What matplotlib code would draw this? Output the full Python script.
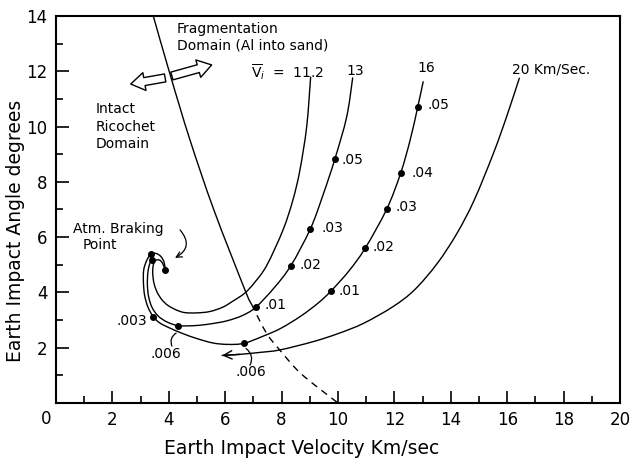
import matplotlib
matplotlib.use("Agg")
import matplotlib.pyplot as plt
from matplotlib.patches import FancyArrowPatch, PathPatch
from matplotlib.path import Path

plt.rcParams['font.family'] = ['DejaVu Sans']

# ---- data ----
curve_112_x = [9.03, 8.89, 8.65, 8.40, 8.05, 7.48, 7.06, 6.70, 6.28, 5.92, 5.46, 5.00, 4.57,
               4.28, 3.97, 3.76, 3.60, 3.49, 3.44, 3.43, 3.46, 3.55, 3.69, 3.79, 3.87]
curve_112_y = [11.79, 10.00, 8.43, 7.34, 6.26, 4.99, 4.38, 3.98, 3.69, 3.47, 3.31, 3.26, 3.27,
               3.36, 3.53, 3.73, 3.98, 4.27, 4.56, 4.81, 5.03, 5.17, 5.16, 5.03, 4.81]

curve_13_x = [10.52, 10.31, 9.89, 9.47, 9.02, 8.33, 7.73, 7.08, 6.60, 6.05, 5.46, 4.93, 4.34,
              3.94, 3.62, 3.40, 3.28, 3.24, 3.26, 3.32, 3.39]
curve_13_y = [11.76, 10.36, 8.83, 7.53, 6.30, 4.97, 4.16, 3.46, 3.16, 2.97, 2.86, 2.80, 2.80,
              2.93, 3.15, 3.47, 3.87, 4.31, 4.74, 5.03, 5.17]

curve_16_x = [13.02, 12.83, 12.56, 12.22, 11.73, 10.97, 10.39, 9.75, 9.30, 8.69, 7.97, 7.35, 6.67,
              6.10, 5.57, 5.00, 4.50, 4.04, 3.69, 3.45, 3.26, 3.14, 3.10, 3.11, 3.21, 3.36,
              3.55, 3.72, 3.83, 3.88]
curve_16_y = [11.62, 10.72, 9.52, 8.31, 7.02, 5.61, 4.78, 4.05, 3.62, 3.15, 2.70, 2.42, 2.16,
              2.12, 2.17, 2.33, 2.51, 2.71, 2.89, 3.12, 3.47, 3.91, 4.38, 4.81, 5.14, 5.38,
              5.41, 5.30, 5.10, 4.81]

curve_20_x = [16.43, 15.98, 15.51, 14.83, 14.22, 13.52, 12.71, 11.94, 10.90, 10.00, 9.12, 7.94,
              7.23, 6.52, 5.89]
curve_20_y = [11.75, 10.36, 9.03, 7.34, 6.14, 5.05, 4.09, 3.48, 2.88, 2.51, 2.22, 1.92,
              1.83, 1.76, 1.72]

# fragmentation boundary: solid part then dashed extension
frag_solid_x = [3.45, 4.05, 4.75, 5.60, 6.70, 6.93]
frag_solid_y = [14.0, 11.87, 9.52, 6.98, 4.09, 3.58]
frag_dash_x = [6.93, 7.45, 7.95, 8.70, 10.0]
frag_dash_y = [3.58, 2.55, 1.90, 1.05, 0.0]

# marked points (dots) and their labels
dots_13_x = [9.89, 9.02, 8.33, 7.08, 4.34]
dots_13_y = [8.83, 6.30, 4.97, 3.46, 2.80]
dots_16_x = [12.83, 12.22, 11.73, 10.97, 9.75, 6.67, 3.45]
dots_16_y = [10.72, 8.31, 7.02, 5.61, 4.05, 2.16, 3.12]
end_dots_x = [3.87, 3.39, 3.36]
end_dots_y = [4.81, 5.17, 5.38]

labels_13 = ['.05', '.03', '.02', '.01']
labels_13_x = [10.12, 9.40, 8.64, 7.40]
labels_13_y = [8.79, 6.33, 4.99, 3.55]
labels_16 = ['.05', '.04', '.03', '.02', '.01']
labels_16_x = [13.18, 12.60, 12.04, 11.23, 10.02]
labels_16_y = [10.78, 8.32, 7.09, 5.64, 4.05]

curve_names = [r'$\overline{\mathrm{V}}_{i}$  =  11.2', '13', '16', '20 Km/Sec.']

xticks = list(range(0, 21, 2))
yticks = list(range(2, 15, 2))


def smooth_path(xs, ys):
    """Smooth drawing path (cubic Bezier segments) through the given points."""
    pts = list(zip(xs, ys))
    n = len(pts)
    verts = [pts[0]]
    codes = [Path.MOVETO]
    for i in range(n - 1):
        p0 = pts[i - 1] if i > 0 else pts[i]
        p1 = pts[i]
        p2 = pts[i + 1]
        p3 = pts[i + 2] if i + 2 < n else pts[i + 1]
        c1 = (p1[0] + (p2[0] - p0[0]) / 6.0, p1[1] + (p2[1] - p0[1]) / 6.0)
        c2 = (p2[0] - (p3[0] - p1[0]) / 6.0, p2[1] - (p3[1] - p1[1]) / 6.0)
        verts += [c1, c2, p2]
        codes += [Path.CURVE4] * 3
    return Path(verts, codes)


# ---- figure ----
fig = plt.figure(figsize=(6.33, 4.61), dpi=100)
ax = fig.add_axes([56 / 633, 58 / 461, 564 / 633, 387 / 461])
ax.set_xlim(0, 20)
ax.set_ylim(0, 14)

lw = 1.0
for cx, cy in [(curve_112_x, curve_112_y), (curve_13_x, curve_13_y),
               (curve_16_x, curve_16_y), (curve_20_x, curve_20_y),
               (frag_solid_x, frag_solid_y)]:
    ax.add_patch(PathPatch(smooth_path(cx, cy), facecolor='none', edgecolor='black',
                           lw=lw, capstyle='round', joinstyle='round'))

# arrow head at the end of the 20 km/s curve
ax.annotate('', xy=(curve_20_x[-1], curve_20_y[-1]), xytext=(curve_20_x[-2], curve_20_y[-2]),
            arrowprops=dict(arrowstyle='->', color='black', lw=lw, mutation_scale=15,
                            shrinkA=0, shrinkB=0))

ax.add_patch(PathPatch(smooth_path(frag_dash_x, frag_dash_y), facecolor='none',
                       edgecolor='black', lw=lw, linestyle=(0, (5, 4))))

ax.plot(dots_13_x, dots_13_y, 'o', color='black', ms=4)
ax.plot(dots_16_x, dots_16_y, 'o', color='black', ms=4)
ax.plot(end_dots_x, end_dots_y, 'o', color='black', ms=4)

fs = 10
for t, x, y in zip(labels_13, labels_13_x, labels_13_y):
    ax.text(x, y, t, fontsize=fs, ha='left', va='center')
for t, x, y in zip(labels_16, labels_16_x, labels_16_y):
    ax.text(x, y, t, fontsize=fs, ha='left', va='center')

ax.text(3.23, 2.97, '.003', fontsize=fs, ha='right', va='center')
ax.text(3.90, 1.77, '.006', fontsize=fs, ha='center', va='center')
ax.text(6.91, 1.12, '.006', fontsize=fs, ha='center', va='center')
ax.annotate('', xy=(4.26, 2.53), xytext=(4.11, 2.06),
            arrowprops=dict(arrowstyle='-', color='black', lw=0.9,
                            connectionstyle='arc3,rad=-0.4', shrinkA=0, shrinkB=0))
ax.annotate('', xy=(6.74, 1.97), xytext=(6.88, 1.37),
            arrowprops=dict(arrowstyle='-', color='black', lw=0.9,
                            connectionstyle='arc3,rad=0.4', shrinkA=0, shrinkB=0))

# curve names
ax.text(6.91, 11.98, curve_names[0], fontsize=fs, ha='left', va='center')
ax.text(10.60, 12.01, curve_names[1], fontsize=fs, ha='center', va='center')
ax.text(13.12, 12.12, curve_names[2], fontsize=fs, ha='center', va='center')
ax.text(16.17, 12.08, curve_names[3], fontsize=fs, ha='left', va='center')

# domain annotations
ax.text(4.29, 13.53, 'Fragmentation', fontsize=fs, ha='left', va='center')
ax.text(4.29, 12.92, 'Domain (Al into sand)', fontsize=fs, ha='left', va='center')
ax.text(1.42, 10.64, 'Intact', fontsize=fs, ha='left', va='center')
ax.text(1.42, 9.99, 'Ricochet', fontsize=fs, ha='left', va='center')
ax.text(1.42, 9.37, 'Domain', fontsize=fs, ha='left', va='center')
ax.text(0.60, 6.30, 'Atm. Braking', fontsize=fs, ha='left', va='center')
ax.text(0.96, 5.72, 'Point', fontsize=fs, ha='left', va='center')
ax.annotate('', xy=(4.22, 5.25), xytext=(4.40, 6.26),
            arrowprops=dict(arrowstyle='->', color='black', lw=0.9, mutation_scale=10,
                            connectionstyle='arc3,rad=-0.6', shrinkA=0, shrinkB=0))

# hollow double arrow across the boundary
for tail, tip in [((3.87, 11.76), (2.65, 11.54)), ((4.11, 11.83), (5.52, 12.23))]:
    ax.add_patch(FancyArrowPatch(tail, tip,
                                 arrowstyle='simple,head_length=0.5,head_width=0.65,tail_width=0.29',
                                 mutation_scale=20, facecolor='white', edgecolor='black', lw=1.0,
                                 shrinkA=0, shrinkB=0, zorder=3))

# axes styling
for side in ['left', 'right', 'top', 'bottom']:
    ax.spines[side].set_linewidth(1.5)
ax.set_xticks(xticks)
ax.set_xticklabels([''] + [str(v) for v in xticks[1:]])
ax.set_xticks(list(range(1, 20, 2)), minor=True)
ax.set_yticks(yticks)
ax.set_yticklabels([str(v) for v in yticks])
ax.set_yticks(list(range(1, 14, 2)), minor=True)
ax.tick_params(which='major', direction='in', length=9, width=1.2, labelsize=12, pad=6)
ax.tick_params(which='minor', direction='in', length=5, width=1.2)
ax.tick_params(top=False, right=False, which='both')
ax.annotate('0', xy=(0, 0), xycoords='data', xytext=(-7, -11.5), textcoords='offset points',
            ha='center', va='center', fontsize=12)

fig.text(302 / 633, 1 - 448 / 461, 'Earth Impact Velocity Km/sec', fontsize=13.5,
         ha='center', va='center')
fig.text(16 / 633, 1 - 231 / 461, 'Earth Impact Angle degrees', fontsize=13.5,
         ha='center', va='center', rotation=90)

fig.savefig('out.png', dpi=100)
